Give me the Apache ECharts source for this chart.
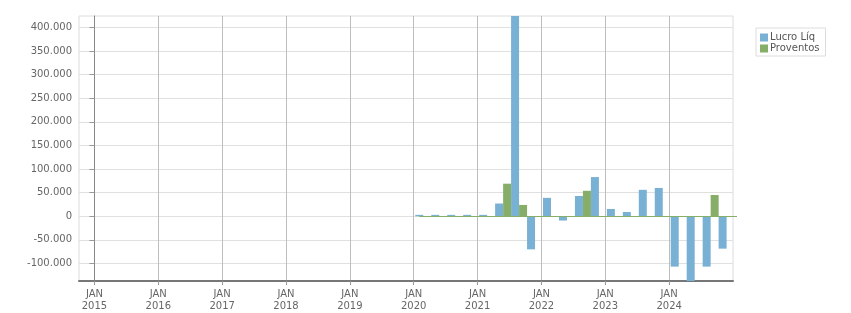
<!DOCTYPE html>
<html>
<head>
<meta charset="utf-8">
<script src="https://cdn.jsdelivr.net/npm/echarts@6/dist/echarts.min.js"></script>
<style>
  html, body { margin: 0; padding: 0; background: #fff; }
  #chart { width: 851px; height: 313px; }
</style>
</head>
<body>
<div id="chart"></div>
<script>
// Quarters (year, quarter) shown as bars
const quarters = ['1T2020','2T2020','3T2020','4T2020','1T2021','2T2021','3T2021','4T2021',
                  '1T2022','2T2022','3T2022','4T2022','1T2023','2T2023','3T2023','4T2023',
                  '1T2024','2T2024','3T2024','4T2024'];
const lucroLiq  = [3000, 3000, 3000, 3000, 3000, 27000, 424000, -70000,
                   39000, -9000, 43000, 83000, 15500, 9000, 56000, 60000,
                   -106500, -137000, -106500, -68500];
const proventos = [0, 0, 0, 0, 0, 69000, 24000, 0,
                   0, 0, 54000, 0, 0, 0, 0, 0,
                   0, 0, 45000, 0];
// Tick labels
const yearTicks = [2015, 2016, 2017, 2018, 2019, 2020, 2021, 2022, 2023, 2024];
const yTicks = [-100000, -50000, 0, 50000, 100000, 150000, 200000, 250000, 300000, 350000, 400000];
const seriesNames = ['Lucro Líq', 'Proventos'];

// months since Jan 2015
const BASE_YEAR = 2015;
const X_MIN = -2.9, X_MAX = 120;
const Y_MIN = -137000, Y_MAX = 424000;
const OFFSET = 1.8;
function qToX(q) {
  const qi = parseInt(q[0], 10) - 1;
  const yr = parseInt(q.slice(2), 10);
  return (yr - BASE_YEAR) * 12 + qi * 3 + OFFSET;
}
const xs = quarters.map(qToX);
const tickX = yearTicks.map(y => (y - BASE_YEAR) * 12);

function fmtThousands(v) {
  const s = Math.abs(Math.round(v)).toString().replace(/\B(?=(\d{3})+(?!\d))/g, '.');
  return (v < 0 ? '-' : '') + s;
}

const FONT = 'DejaVu Sans';
const chart = echarts.init(document.getElementById('chart'), null, { renderer: 'canvas' });
chart.setOption({
  animation: false,
  backgroundColor: '#fff',
  grid: {
    left: 79, right: 118, top: 16, bottom: 32,
    show: true, borderColor: '#dcdcdc', borderWidth: 1, backgroundColor: 'transparent'
  },
  legend: {
    orient: 'vertical',
    left: 756, top: 28,
    data: seriesNames,
    icon: 'rect',
    itemWidth: 8, itemHeight: 8, itemGap: 0,
    padding: [4, 6, 2, 4],
    borderColor: '#dcdcdc', borderWidth: 1,
    textStyle: { fontFamily: FONT, fontSize: 10, color: '#555', lineHeight: 11, padding: [0, 0, 0, -3] }
  },
  xAxis: {
    type: 'value',
    min: X_MIN, max: X_MAX,
    axisLine: { show: true, onZero: false, lineStyle: { color: '#777', width: 2 } },
    axisTick: { show: true, customValues: tickX, length: 4, lineStyle: { color: '#999' } },
    axisLabel: {
      customValues: tickX,
      fontFamily: FONT, fontSize: 10, color: '#666', lineHeight: 12, margin: 7,
      formatter: v => 'JAN\n' + (BASE_YEAR + Math.round(v / 12))
    },
    splitLine: { show: true, lineStyle: { color: '#bdbdbd', width: 1 } }
  },
  yAxis: {
    type: 'value',
    min: Y_MIN, max: Y_MAX,
    axisLine: { show: true, lineStyle: { color: '#888', width: 1 } },
    axisTick: { show: true, customValues: yTicks, length: 5, lineStyle: { color: '#999' } },
    axisLabel: {
      customValues: yTicks,
      fontFamily: FONT, fontSize: 10, color: '#666', margin: 7,
      formatter: v => fmtThousands(v)
    },
    splitLine: { show: true, lineStyle: { color: '#e0e0e0', width: 1 } }
  },
  series: [
    {
      name: seriesNames[0],
      type: 'bar',
      barWidth: 8,
      barGap: '0%',
      itemStyle: { color: '#78b1d4' },
      data: xs.map((x, i) => [x, lucroLiq[i]])
    },
    {
      name: seriesNames[1],
      type: 'bar',
      barWidth: 8,
      barGap: '0%',
      itemStyle: { color: '#87ae68' },
      data: xs.map((x, i) => [x, proventos[i]]),
      markLine: {
        silent: true, symbol: 'none', label: { show: false },
        lineStyle: { color: '#87ae68', type: 'solid', width: 1 },
        data: [[{ coord: [xs[0] - 1.5, 0] }, { coord: [X_MAX, 0] }]]
      }
    }
  ]
});
</script>
</body>
</html>
